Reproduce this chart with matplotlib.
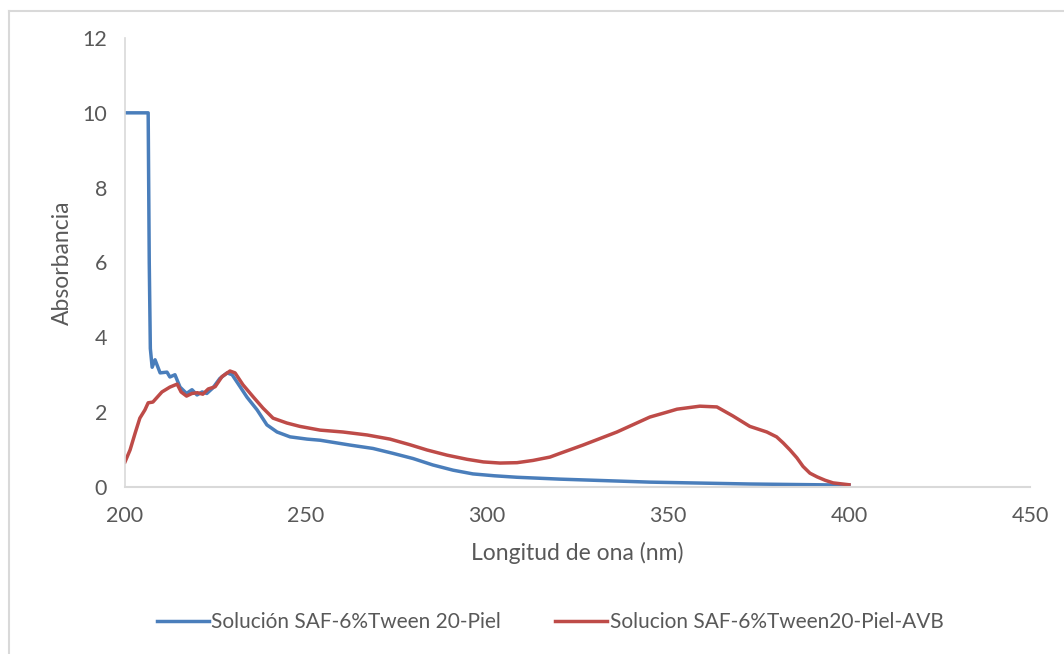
import matplotlib
matplotlib.use("Agg")
import matplotlib.pyplot as plt
from matplotlib.lines import Line2D

plt.rcParams['font.family'] = ['Lato', 'DejaVu Sans']

# Blue series: Solución SAF-6%Tween 20-Piel
blue_x = [200, 203, 206.4, 206.7, 207.0, 207.5, 208.3, 209.7, 211.6, 212.4, 213.8, 215.2, 217.0,
          218.5, 219.9, 221.3, 222.6, 224.3, 226.2, 228.2, 229.6, 231.8, 233.7, 236.5,
          239.2, 242.0, 245.6, 250.3, 253.9, 255.8, 262.2, 268.5, 274.0, 279.6, 285.0,
          290.6, 296.1, 302.0, 308.3, 320.2, 345.0, 372.6, 400.0]
blue_y = [10.0, 10.0, 10.0, 6.0, 3.7, 3.2, 3.4, 3.05, 3.07, 2.94, 3.0, 2.67, 2.5,
          2.6, 2.46, 2.54, 2.5, 2.65, 2.9, 3.05, 3.0, 2.68, 2.4, 2.06,
          1.66, 1.47, 1.34, 1.28, 1.25, 1.22, 1.12, 1.03, 0.9, 0.76, 0.59,
          0.45, 0.35, 0.3, 0.26, 0.21, 0.13, 0.08, 0.05]

# Red series: Solucion SAF-6%Tween20-Piel-AVB
red_x = [200, 201.4, 202.8, 204.1, 205.5, 206.4, 207.7, 210.2, 212.4, 214.4, 215.5, 217.0,
         218.5, 220.0, 221.5, 223.0, 224.9, 226.8, 229.0, 230.4, 232.6, 235.4, 238.1,
         240.9, 244.7, 248.3, 253.9, 260.2, 266.9, 273.2, 278.7, 283.4, 289.0, 294.5,
         299.0, 303.6, 308.3, 312.7, 317.4, 320.2, 326.5, 335.9, 345.0, 349.7, 352.5,
         358.8, 363.5, 367.9, 372.6, 377.3, 380.0, 381.8, 383.7, 385.6, 387.3, 389.2,
         391.2, 393.4, 395.6, 400.0]
red_y = [0.67, 0.99, 1.44, 1.84, 2.06, 2.25, 2.27, 2.54, 2.67, 2.75, 2.54, 2.43,
         2.5, 2.52, 2.48, 2.62, 2.68, 2.95, 3.1, 3.05, 2.73, 2.41, 2.11,
         1.84, 1.71, 1.62, 1.52, 1.47, 1.39, 1.28, 1.13, 0.99, 0.85, 0.74,
         0.67, 0.64, 0.65, 0.71, 0.8, 0.9, 1.12, 1.47, 1.87, 2.0, 2.08,
         2.16, 2.14, 1.9, 1.62, 1.47, 1.34, 1.18, 0.99, 0.78, 0.55, 0.37,
         0.27, 0.18, 0.11, 0.06]

blue_label = "Solución SAF-6%Tween 20-Piel"
red_label = "Solucion SAF-6%Tween20-Piel-AVB"
x_ticks = [200, 250, 300, 350, 400, 450]
y_ticks = [0, 2, 4, 6, 8, 10, 12]

fig = plt.figure(figsize=(10.64, 6.54), dpi=100)
ax = fig.add_axes([125/1064, 1 - 487/654, (1030 - 125)/1064, (487 - 38)/654])

ax.plot(blue_x, blue_y, color='#4a7ebb', lw=2.5, label=blue_label, solid_joinstyle='round')
ax.plot(red_x, red_y, color='#be4b48', lw=2.5, label=red_label, solid_joinstyle='round')

ax.set_xlim(200, 450)
ax.set_ylim(0, 12)
ax.set_xticks(x_ticks)
ax.set_yticks(y_ticks)
tc = '#595959'
ax.tick_params(axis='both', length=0, labelsize=15.5, colors=tc)
ax.tick_params(axis='x', pad=14)
ax.tick_params(axis='y', pad=13)
for s in ['top', 'right']:
    ax.spines[s].set_visible(False)
ax.spines['left'].set_color('#d9d9d9')
ax.spines['bottom'].set_color('#d9d9d9')
ax.spines['left'].set_linewidth(1.2)
ax.spines['bottom'].set_linewidth(1.5)

ax.set_xlabel('Longitud de ona (nm)', fontsize=16.5, color=tc, labelpad=11)
ax.set_ylabel('Absorbancia', fontsize=16.5, color=tc, labelpad=7)

leg = fig.legend(loc='center', bbox_to_anchor=(550/1064, 1 - 622/654), ncol=2, frameon=False,
                 fontsize=15, handlelength=2.5, handletextpad=0.12, columnspacing=2.6)
for t in leg.get_texts():
    t.set_color(tc)

fig.add_artist(Line2D([9/1064, 1], [1 - 11/654, 1 - 11/654], transform=fig.transFigure,
                      color='#d9d9d9', lw=1.5))
fig.add_artist(Line2D([9/1064, 9/1064], [0, 1 - 11/654], transform=fig.transFigure,
                      color='#d9d9d9', lw=1.5))

fig.savefig('out.png', dpi=100, facecolor='white')
